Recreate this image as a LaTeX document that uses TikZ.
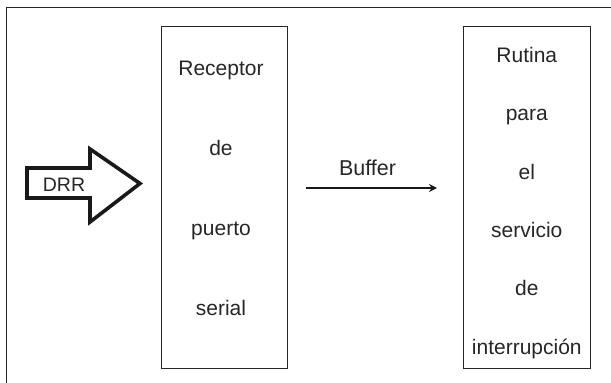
\documentclass[tikz,border=0pt]{standalone}
\usepackage{fontspec}
\setmainfont{Liberation Sans}
\usetikzlibrary{arrows.meta,positioning,calc}

\tikzset{
    marco/.style={draw=black!85, line width=0.9pt},
    bloque/.style={draw=black!85, line width=0.9pt, minimum height=342pt, inner sep=0pt},
    etiqueta/.style={font=\fontsize{21}{24}\selectfont, text=black!85, inner sep=0pt, anchor=base},
}

\begin{document}
\begin{tikzpicture}[x=1pt, y=-1pt]
        \useasboundingbox (0,0) rectangle (611,383);
        \draw [marco] (6,7.5) rectangle (625,395);

        % los dos bloques
        \node (receptor) [bloque, minimum width=125.3pt] at (224.3,197.7) {};
        \node (rutina) [bloque, minimum width=126.3pt] at (526.8,197.7) {};

        \node (receptor1) [etiqueta] at ($(receptor.north)+(-3.3,49.3)$) {Receptor};
        \node (receptor2) [etiqueta] at ($(receptor.north)+(-3.3,129.3)$) {de};
        \node (receptor3) [etiqueta] at ($(receptor.north)+(-3.3,209.3)$) {puerto};
        \node (receptor4) [etiqueta] at ($(receptor.north)+(-3.3,289.3)$) {serial};

        \node (rutina1) [etiqueta] at ($(rutina.north)+(0,36.3)$) {Rutina};
        \node (rutina2) [etiqueta] at ($(rutina.north)+(0,94.6)$) {para};
        \node (rutina3) [etiqueta] at ($(rutina.north)+(0,152.9)$) {el};
        \node (rutina4) [etiqueta] at ($(rutina.north)+(0,211.2)$) {servicio};
        \node (rutina5) [etiqueta] at ($(rutina.north)+(0,269.5)$) {de};
        \node (rutina6) [etiqueta] at ($(rutina.north)+(0,327.8)$) {interrupci\'on};

        % flecha de entrada
        \draw [line width=3.6pt, line join=miter, black!90]
            (27,168) -- (90,168) -- (90,149) -- (140,183.5) -- (90,222) -- (90,198) -- (27,198) -- cycle;
        \node (drr) [etiqueta, font=\fontsize{19.5}{22}\selectfont] at (64,191.7) {DRR};

        % buffer
        \coordinate (bufini) at (306,188);
        \coordinate (buffin) at (437,188);
        \draw [-{Stealth[length=8pt, width=8pt]}, line width=1.4pt, black!90] (bufini) -- (buffin);
        \node (buffer) [etiqueta, font=\fontsize{21.5}{24}\selectfont] at (367.5,175) {Buffer};
    \end{tikzpicture}
\end{document}
